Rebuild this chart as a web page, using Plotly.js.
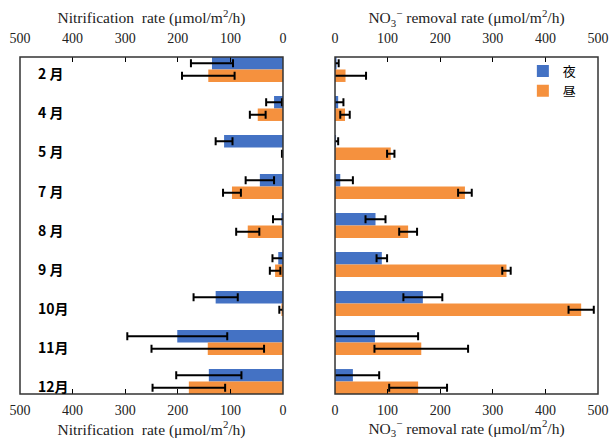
<!DOCTYPE html>
<html>
<head>
<meta charset="utf-8">
<script src="https://cdn.plot.ly/plotly-3.0.1.min.js"></script>
<style>html,body{margin:0;padding:0;background:#fff;}#chart{width:610px;height:439px;}</style>
</head>
<body>
<div id="chart"></div>
<script>
// Categories (months)
const months = ['2 月', '4 月', '5 月', '7 月', '8 月', '9 月', '10月', '11月', '12月'];
const seriesNames = ['夜', '昼'];

// Nitrification rate (μmol/m2/h)
const nitNight    = [135, 17, 112, 44, 3, 9, 128, 201, 141];
const nitNightErr = [40, 15, 16, 27, 16, 11, 42, 95, 62];
const nitDay      = [142, 48, 1, 97, 67, 15, 3, 143, 179];
const nitDayErr   = [50, 15, 1, 17, 22, 10, 4, 107, 69];

// NO3- removal rate (μmol/m2/h)
const remNight    = [3, 6, 2, 10, 77, 89, 167, 76, 34];
const remNightErr = [4, 10, 4, 24, 19, 10, 37, 82, 50];
const remDay      = [20, 19, 106, 247, 139, 326, 468, 164, 158];
const remDayErr   = [39, 9, 7, 13, 17, 8, 24, 89, 55];

const tickValues = [0, 100, 200, 300, 400, 500];

const BLUE = '#4472C4';
const ORANGE = '#F5913E';

function errBar(arr) {
  return {type: 'data', array: arr, visible: true, color: '#000', thickness: 2, width: 4};
}

const traces = [
  {type: 'bar', orientation: 'h', name: seriesNames[0], legendgroup: 'n', x: nitNight, y: months,
   xaxis: 'x', yaxis: 'y', marker: {color: BLUE}, error_x: errBar(nitNightErr), hoverinfo: 'x+y'},
  {type: 'bar', orientation: 'h', name: seriesNames[1], legendgroup: 'd', x: nitDay, y: months,
   xaxis: 'x', yaxis: 'y', marker: {color: ORANGE}, error_x: errBar(nitDayErr), hoverinfo: 'x+y'},
  {type: 'bar', orientation: 'h', name: seriesNames[0], legendgroup: 'n', showlegend: false, x: remNight, y: months,
   xaxis: 'x2', yaxis: 'y', marker: {color: BLUE}, error_x: errBar(remNightErr), hoverinfo: 'x+y'},
  {type: 'bar', orientation: 'h', name: seriesNames[1], legendgroup: 'd', showlegend: false, x: remDay, y: months,
   xaxis: 'x2', yaxis: 'y', marker: {color: ORANGE}, error_x: errBar(remDayErr), hoverinfo: 'x+y'},
  // empty helper traces so the top (mirrored) axes are drawn
  {type: 'scatter', mode: 'markers', x: [], y: [], xaxis: 'x3', yaxis: 'y', showlegend: false, hoverinfo: 'skip'},
  {type: 'scatter', mode: 'markers', x: [], y: [], xaxis: 'x4', yaxis: 'y', showlegend: false, hoverinfo: 'skip'}
];

const serif = 'Liberation Serif, DejaVu Serif';
const tickFont = {family: serif, size: 14, color: '#222'};
const titleFont = {family: serif, size: 15.5, color: '#222'};
const nitTitle = 'Nitrification  rate (μmol/m<sup>2</sup>/h)';
const remTitle = 'NO<sub>3</sub><sup>−</sup> removal rate (μmol/m<sup>2</sup>/h)';

const leftDom = [0, 0.455];
const rightDom = [0.545, 1];

function xAxis(opts) {
  return Object.assign({
    tickmode: 'array', tickvals: tickValues, ticktext: tickValues.map(String),
    ticks: 'inside', ticklen: 5, tickwidth: 1, tickcolor: '#000',
    showgrid: false, zeroline: false, showline: false,
    tickfont: tickFont, ticklabelstandoff: 10, fixedrange: true
  }, opts);
}

const layout = {
  width: 610, height: 439,
  font: {family: serif, size: 14, color: '#222'},
  margin: {l: 20, r: 12, t: 57, b: 45, pad: 0},
  paper_bgcolor: '#fff', plot_bgcolor: '#fff',
  barmode: 'group', bargap: 0.36, bargroupgap: 0,
  showlegend: true,
  legend: {x: 0.87, y: 1.003, xanchor: 'left', yanchor: 'top', bgcolor: 'rgba(0,0,0,0)',
           font: {family: 'Noto Sans CJK JP', size: 13, color: '#000'}, tracegroupgap: 0,
           itemwidth: 30},
  xaxis: xAxis({domain: leftDom, range: [500, 0], anchor: 'y', side: 'bottom', ticklabelstandoff: 6,
               title: {text: nitTitle, font: titleFont, standoff: 6}}),
  xaxis3: xAxis({overlaying: 'x', range: [500, 0], anchor: 'y', side: 'top',
               title: {text: nitTitle, font: titleFont, standoff: 3}}),
  xaxis2: xAxis({domain: rightDom, range: [0, 500], anchor: 'y', side: 'bottom', ticklabelstandoff: 6,
               title: {text: remTitle, font: titleFont, standoff: 6}}),
  xaxis4: xAxis({overlaying: 'x2', range: [0, 500], anchor: 'y', side: 'top',
               title: {text: remTitle, font: titleFont, standoff: 3}}),
  yaxis: {type: 'category', range: [months.length - 1 + 0.32, -0.32], showticklabels: false,
          ticks: '', showgrid: false, zeroline: false, showline: false, fixedrange: true},
  shapes: [
    {type: 'rect', xref: 'paper', yref: 'paper', x0: leftDom[0], x1: leftDom[1], y0: 0, y1: 1,
     line: {color: '#333', width: 1.5}, fillcolor: 'rgba(0,0,0,0)', layer: 'above'},
    {type: 'rect', xref: 'paper', yref: 'paper', x0: rightDom[0], x1: rightDom[1], y0: 0, y1: 1,
     line: {color: '#333', width: 1.5}, fillcolor: 'rgba(0,0,0,0)', layer: 'above'}
  ],
  annotations: months.map((m, i) => ({
    text: '<b>' + m + '</b>', xref: 'paper', yref: 'y', x: 0.027, y: i, yshift: -4,
    xanchor: 'left', yanchor: 'middle', showarrow: false,
    font: {family: 'Noto Sans CJK JP', size: 14, color: '#000'}
  }))
};

Plotly.newPlot('chart', traces, layout, {displayModeBar: false, staticPlot: true});
</script>
</body>
</html>
